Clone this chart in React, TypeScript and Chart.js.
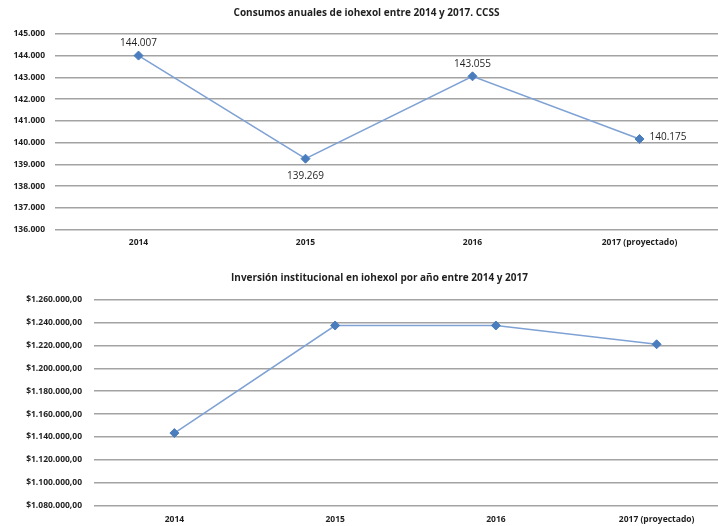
import React, { useEffect, useRef } from "react";
import { Chart, registerables } from "chart.js";

Chart.register(...registerables);

const categories = ["2014", "2015", "2016", "2017 (proyectado)"];
const consumos = [144007, 139269, 143055, 140175];
const consumoLabels = ["144.007", "139.269", "143.055", "140.175"];
const labelPlacement = ["above", "below", "above", "right"];
const inversion = [1143500, 1237400, 1237400, 1221000];

const titleTop = "Consumos anuales de iohexol entre 2014 y 2017. CCSS";
const titleBottom = "Inversión institucional en iohexol por año entre 2014 y 2017";

const FONT = "'Open Sans', 'Noto Sans', sans-serif";
const TEXT = "#1f1f1f";
const LINE = "#7fa2d4";
const MARK = "#4a7dbd";
const GRID = "#a3a3a3";

function thousands(n: number): string {
  const s = Math.round(n).toString();
  return s.replace(/\B(?=(\d{3})+(?!\d))/g, ".");
}

const dataLabelPlugin = {
  id: "dataLabels",
  afterDatasetsDraw(chart: any, _args: any, opts: any) {
    if (!opts || !opts.labels) return;
    const ctx = chart.ctx;
    const meta = chart.getDatasetMeta(0);
    ctx.save();
    ctx.font = `10px ${FONT}`;
    ctx.fillStyle = TEXT;
    meta.data.forEach((pt: any, i: number) => {
      const txt = opts.labels[i];
      const place = opts.placement[i];
      let x = pt.x;
      let y = pt.y;
      if (place === "above") {
        ctx.textAlign = "center";
        ctx.textBaseline = "middle";
        y -= 12;
      } else if (place === "below") {
        ctx.textAlign = "center";
        ctx.textBaseline = "middle";
        y += 17;
      } else {
        ctx.textAlign = "left";
        ctx.textBaseline = "middle";
        x += 10;
        y -= 2;
      }
      ctx.fillText(txt, x, y);
    });
    ctx.restore();
  },
};

function makeConfig(
  values: number[],
  title: string,
  min: number,
  max: number,
  step: number,
  fmt: (v: number) => string,
  leftPad: number,
  axisWidth: number,
  tickPad: number,
  titlePad: { top: number; bottom: number },
  xPad: number,
  rightPad: number,
  labels: any
): any {
  return {
    type: "line",
    data: {
      labels: categories,
      datasets: [
        {
          data: values,
          borderColor: LINE,
          borderWidth: 1.6,
          pointStyle: "rectRot",
          pointRadius: 4.5,
          pointBackgroundColor: MARK,
          pointBorderColor: MARK,
          pointBorderWidth: 1,
          tension: 0,
          fill: false,
        },
      ],
    },
    options: {
      animation: false,
      responsive: true,
      maintainAspectRatio: false,
      layout: { padding: { top: 0, left: leftPad, right: rightPad, bottom: 0 } },
      plugins: {
        legend: { display: false },
        tooltip: { enabled: false },
        title: {
          display: true,
          text: title,
          color: TEXT,
          font: { family: FONT, size: 10, weight: "bold" },
          padding: titlePad,
        },
        dataLabels: labels,
      },
      scales: {
        x: {
          offset: true,
          grid: { display: false, drawTicks: false, offset: true },
          border: { display: false },
          ticks: {
            color: TEXT,
            font: { family: FONT, size: 8.5, weight: "bold" },
            padding: xPad,
            maxRotation: 0,
            autoSkip: false,
          },
        },
        y: {
          min,
          max,
          grid: { color: GRID, lineWidth: 1.6, drawTicks: false },
          border: { display: false },
          ticks: {
            stepSize: step,
            color: TEXT,
            font: { family: FONT, size: 8.5, weight: "bold" },
            padding: tickPad,
            callback: (v: any) => fmt(Number(v)),
          },
          afterFit: (scale: any) => {
            scale.width = axisWidth;
          },
        },
      },
    },
    plugins: [dataLabelPlugin],
  };
}

export default function App() {
  const topRef = useRef<HTMLCanvasElement | null>(null);
  const botRef = useRef<HTMLCanvasElement | null>(null);

  useEffect(() => {
    const c1 = new Chart(
      topRef.current as HTMLCanvasElement,
      makeConfig(
        consumos,
        titleTop,
        136000,
        145000,
        1000,
        (v) => thousands(v),
        10,
        45,
        10,
        { top: 7.6, bottom: 14.4 },
        8,
        8,
        { labels: consumoLabels, placement: labelPlacement }
      )
    );
    const c2 = new Chart(
      botRef.current as HTMLCanvasElement,
      makeConfig(
        inversion,
        titleBottom,
        1080000,
        1260000,
        20000,
        (v) => "$" + thousands(v) + ",00",
        22,
        72,
        12,
        { top: 17.4, bottom: 15.2 },
        9,
        43,
        null
      )
    );
    return () => {
      c1.destroy();
      c2.destroy();
    };
  }, []);

  return (
    <div
      style={{
        position: "absolute",
        left: 0,
        top: 0,
        width: 718,
        height: 526,
        overflow: "hidden",
        background: "#fff",
      }}
    >
      <div style={{ position: "absolute", left: 0, top: 0, width: 731, height: 256 }}>
        <canvas ref={topRef} />
      </div>
      <div style={{ position: "absolute", left: 0, top: 255, width: 780, height: 279 }}>
        <canvas ref={botRef} />
      </div>
    </div>
  );
}
